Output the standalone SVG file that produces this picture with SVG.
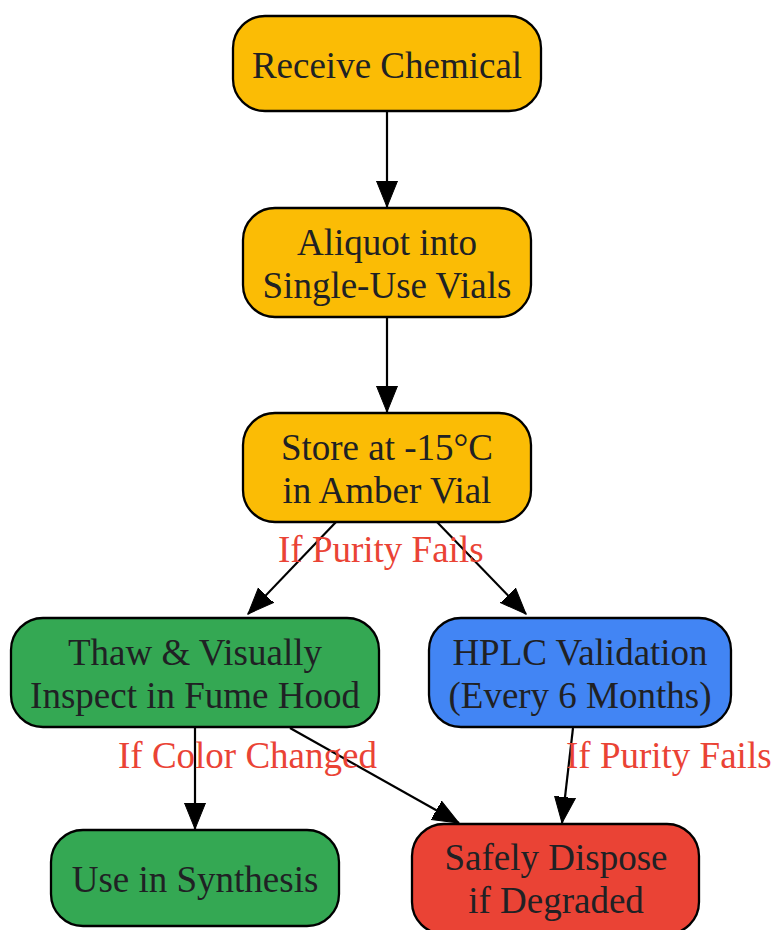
<svg xmlns="http://www.w3.org/2000/svg" width="774" height="930" viewBox="0 0 774 930">
<style>
.n{stroke:#000;stroke-width:2.3}
.t{font-family:"Liberation Serif","Times New Roman",serif;font-size:37px;fill:#202124;text-anchor:middle}
.l{font-family:"Liberation Serif","Times New Roman",serif;font-size:37px;fill:#EA4335}
.e{stroke:#000;stroke-width:2.2;fill:none;marker-end:url(#ah)}
</style>
<defs>
<marker id="ah" markerUnits="userSpaceOnUse" markerWidth="28" markerHeight="24" refX="26" refY="12" orient="auto">
<path d="M0,1.5 L26,12 L0,22.5 Z" fill="#000" stroke="#000" stroke-width="1"/>
</marker>
</defs>
<rect width="774" height="930" fill="#fff"/>
<g id="edges">
<line class="e" x1="387" y1="111" x2="387" y2="207"/>
<line class="e" x1="387" y1="317" x2="387" y2="412"/>
<line class="e" x1="336" y1="522" x2="248" y2="614"/>
<line class="e" x1="437" y1="522" x2="526" y2="614"/>
<line class="e" x1="195" y1="728" x2="195" y2="829"/>
<line class="e" x1="290" y1="728" x2="459" y2="823"/>
<line class="e" x1="573" y1="728" x2="562" y2="823"/>
<text class="l" x="278" y="562">If Purity Fails</text>
<text class="l" x="118" y="768">If Color Changed</text>
<text class="l" x="566" y="768">If Purity Fails</text>
</g>
<g id="receive">
<rect class="n" x="233" y="16" width="308" height="95" rx="32" fill="#FBBC05"/>
<text class="t" x="387" y="78">Receive Chemical</text>
</g>
<g id="aliquot">
<rect class="n" x="243" y="208" width="288" height="109" rx="32" fill="#FBBC05"/>
<text class="t" x="387" y="255">Aliquot into</text>
<text class="t" x="387" y="298">Single-Use Vials</text>
</g>
<g id="store">
<rect class="n" x="243" y="413" width="288" height="109" rx="32" fill="#FBBC05"/>
<text class="t" x="387" y="460">Store at -15°C</text>
<text class="t" x="387" y="503">in Amber Vial</text>
</g>
<g id="thaw">
<rect class="n" x="11" y="618" width="368" height="109" rx="32" fill="#34A853"/>
<text class="t" x="195" y="665">Thaw &amp; Visually</text>
<text class="t" x="195" y="708">Inspect in Fume Hood</text>
</g>
<g id="hplc">
<rect class="n" x="429" y="618" width="302" height="109" rx="32" fill="#4285F4"/>
<text class="t" x="580" y="665">HPLC Validation</text>
<text class="t" x="580" y="708">(Every 6 Months)</text>
</g>
<g id="use">
<rect class="n" x="51" y="830" width="288" height="96" rx="32" fill="#34A853"/>
<text class="t" x="195" y="892">Use in Synthesis</text>
</g>
<g id="dispose">
<rect class="n" x="412" y="824" width="287" height="110" rx="32" fill="#EA4335"/>
<text class="t" x="556" y="870">Safely Dispose</text>
<text class="t" x="556" y="913">if Degraded</text>
</g>
</svg>
